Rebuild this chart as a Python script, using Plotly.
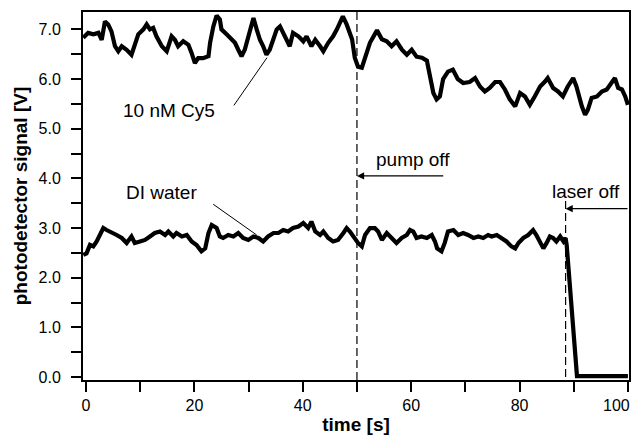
import plotly.graph_objects as go

# ---- data ----
cy5_time = [-0.5, 0.4, 1.35, 2.3, 2.9, 3.5, 4.1, 4.7, 5.35, 5.96, 6.6, 7.5, 8.4, 9.0, 9.65,
            10.6, 11.2, 11.8, 12.4, 13.0, 14.0, 14.9, 15.8, 16.4, 17.0, 17.95, 18.9, 19.5,
            20.1, 20.7, 21.6, 22.6, 22.9, 23.5, 24.1, 24.7, 25.0, 25.95, 26.9, 27.5, 28.1,
            28.7, 29.3, 29.9, 30.6, 30.9, 31.5, 32.1, 32.7, 33.3, 33.9, 34.6, 35.2, 35.8,
            36.7, 37.6, 38.2, 39.2, 40.1, 40.7, 41.6, 42.3, 43.2, 43.8, 44.7, 45.6, 46.3,
            46.9, 47.4, 48.1, 48.7, 49.1, 49.6, 50.2, 50.9, 51.5, 52.4, 53.7, 54.6, 55.5,
            56.4, 57.3, 58.3, 59.2, 60.1, 61.0, 62.0, 62.9, 63.5, 64.1, 64.7, 65.3, 65.9,
            66.8, 67.7, 68.6, 69.6, 70.8, 71.8, 72.7, 73.6, 74.5, 75.5, 76.4, 77.3, 78.2,
            79.2, 80.1, 81.0, 81.9, 82.8, 83.8, 84.7, 85.2, 86.2, 87.1, 88.0, 88.9, 89.9,
            90.5, 91.5, 92.1, 92.6, 93.3, 94.3, 95.2, 96.1, 97.0, 97.6, 98.2, 98.9, 99.5,
            100.0]
cy5_signal = [6.83, 6.93, 6.90, 6.93, 6.79, 7.16, 7.10, 6.96, 6.66, 6.56, 6.66, 6.59, 6.49,
              6.66, 6.90, 7.00, 7.10, 7.00, 7.03, 6.86, 6.66, 6.56, 6.86, 6.79, 6.66, 6.76,
              6.69, 6.52, 6.32, 6.42, 6.42, 6.46, 6.73, 7.06, 7.28, 7.20, 7.00, 6.90, 6.79,
              6.73, 6.59, 6.46, 6.59, 6.86, 7.13, 7.23, 7.00, 6.79, 6.66, 6.49, 6.59, 6.79,
              7.00, 7.06, 6.86, 6.66, 6.93, 6.86, 6.76, 6.86, 6.66, 6.79, 6.66, 6.56, 6.73,
              6.86, 7.00, 7.13, 7.26, 7.10, 6.90, 6.80, 6.43, 6.25, 6.23, 6.45, 6.73, 6.98,
              6.80, 6.76, 6.66, 6.76, 6.59, 6.49, 6.59, 6.45, 6.43, 6.37, 6.05, 5.72, 5.59,
              5.65, 6.00, 6.15, 6.19, 6.00, 5.92, 5.94, 6.02, 5.85, 5.75, 5.82, 5.94, 5.94,
              5.79, 5.59, 5.45, 5.72, 5.65, 5.48, 5.65, 5.85, 5.95, 6.02, 5.82, 5.75, 5.65,
              5.85, 6.02, 5.85, 5.45, 5.28, 5.38, 5.62, 5.65, 5.75, 5.79, 5.95, 6.02, 5.82,
              5.79, 5.65, 5.48]

water_time = [-0.5, 0.1, 0.74, 1.35, 1.97, 2.58, 3.2, 3.8, 4.7, 5.66, 6.6, 7.5, 8.4, 9.0,
              9.96, 10.9, 11.8, 12.7, 13.65, 14.6, 15.2, 16.1, 16.7, 17.7, 18.6, 19.5, 20.4,
              21.3, 22.0, 22.6, 23.2, 24.1, 24.7, 25.3, 26.25, 27.2, 28.1, 29.0, 29.95, 30.9,
              31.8, 32.7, 33.6, 34.6, 35.5, 36.4, 37.3, 38.2, 39.2, 40.1, 41.0, 41.6, 42.3,
              43.2, 43.8, 44.7, 45.6, 46.5, 47.5, 48.1, 48.7, 49.3, 50.2, 50.9, 51.5, 52.4,
              53.3, 53.9, 54.6, 55.5, 56.4, 57.3, 58.25, 59.2, 59.8, 60.4, 61.0, 61.9, 62.9,
              63.8, 64.4, 64.8, 65.6, 66.2, 66.8, 67.8, 68.7, 69.6, 70.5, 71.5, 72.4, 73.3,
              74.2, 74.85, 75.8, 76.7, 77.6, 78.5, 79.2, 79.8, 80.7, 81.6, 82.5, 83.1, 83.8,
              84.4, 85.0, 85.6, 86.2, 86.8, 87.5, 88.1, 88.5, 88.7, 90.6, 95.0, 100.0]
water_signal = [2.46, 2.49, 2.66, 2.63, 2.73, 2.86, 3.00, 2.96, 2.90, 2.86, 2.80, 2.70, 2.83,
                2.70, 2.73, 2.76, 2.83, 2.90, 2.93, 2.86, 2.93, 2.83, 2.90, 2.83, 2.86, 2.73,
                2.66, 2.53, 2.59, 2.90, 3.06, 3.00, 2.83, 2.80, 2.86, 2.83, 2.90, 2.80, 2.76,
                2.83, 2.80, 2.73, 2.83, 2.90, 2.90, 2.96, 2.93, 3.00, 3.03, 3.10, 3.00, 3.13,
                2.93, 2.86, 2.93, 2.80, 2.73, 2.76, 2.90, 3.00, 2.93, 2.83, 2.70, 2.63, 2.86,
                3.00, 3.00, 2.93, 2.76, 2.90, 2.80, 2.70, 2.80, 2.86, 2.96, 2.93, 2.80, 2.83,
                2.80, 2.86, 2.73, 2.59, 2.53, 2.70, 2.93, 2.96, 2.86, 2.90, 2.86, 2.80, 2.83,
                2.80, 2.86, 2.83, 2.86, 2.80, 2.73, 2.63, 2.59, 2.70, 2.80, 2.86, 2.96, 2.86,
                2.73, 2.59, 2.70, 2.83, 2.80, 2.73, 2.83, 2.73, 2.80, 2.66, 0.02, 0.02, 0.02]

x_tick_values = [0, 10, 20, 30, 40, 50, 60, 70, 80, 90, 100]
x_tick_labels = ["0", "", "20", "", "40", "", "60", "", "80", "", ""]
X_LAST_LABEL = "100"   # drawn right-aligned at its tick so it stays inside the page
y_tick_values = [0.0, 0.5, 1.0, 1.5, 2.0, 2.5, 3.0, 3.5, 4.0, 4.5, 5.0, 5.5, 6.0, 6.5, 7.0]
y_tick_labels = ["0.0", "", "1.0", "", "2.0", "", "3.0", "", "4.0", "", "5.0", "", "6.0", "", "7.0"]

PUMP_OFF_T = 50.0
LASER_OFF_T = 88.5

FONT = "Liberation Sans, Arial, Helvetica, sans-serif"

fig = go.Figure()
fig.add_trace(go.Scatter(x=cy5_time, y=cy5_signal, mode="lines",
                         line=dict(color="black", width=4.2), showlegend=False))
fig.add_trace(go.Scatter(x=water_time, y=water_signal, mode="lines",
                         line=dict(color="black", width=4.2), showlegend=False))

# dashed event markers
fig.add_shape(type="line", xref="x", yref="paper", x0=PUMP_OFF_T, x1=PUMP_OFF_T, y0=0, y1=1,
              line=dict(color="black", width=1.2, dash="8px,4px"))
fig.add_shape(type="line", xref="x", yref="y", x0=LASER_OFF_T, x1=LASER_OFF_T, y0=0, y1=3.63,
              line=dict(color="black", width=1.2, dash="8px,4px"))

ann_font = dict(family=FONT, size=19, color="black")
annotations = [
    dict(x=60.4, y=4.37, text="pump off", showarrow=False, font=ann_font),
    dict(x=PUMP_OFF_T, y=4.05, ax=66.2, ay=4.05, axref="x", ayref="y", text="",
         showarrow=True, arrowhead=2, arrowsize=1.3, arrowwidth=1.1, arrowcolor="black"),
    dict(x=92.3, y=3.73, text="laser off", showarrow=False, font=ann_font),
    dict(x=LASER_OFF_T, y=3.39, ax=100.2, ay=3.39, axref="x", ayref="y", text="",
         showarrow=True, arrowhead=2, arrowsize=1.3, arrowwidth=1.1, arrowcolor="black"),
    dict(x=15.4, y=5.36, text="10 nM Cy5", showarrow=False, font=ann_font),
    dict(x=33.4, y=6.43, ax=27.1, ay=5.44, axref="x", ayref="y", text="",
         showarrow=True, arrowhead=0, arrowwidth=1, arrowcolor="black"),
    dict(x=14.0, y=3.71, text="DI water", showarrow=False, font=ann_font),
    dict(x=31.5, y=2.86, ax=23.2, ay=3.5, axref="x", ayref="y", text="",
         showarrow=True, arrowhead=0, arrowwidth=1, arrowcolor="black"),
    dict(x=x_tick_values[-1], xref="x", y=0, yref="paper", text=X_LAST_LABEL,
         showarrow=False, xanchor="right", yanchor="middle", xshift=3, yshift=-25,
         borderpad=0, font=dict(family=FONT, size=16, color="black")),
]

# The page places the figure 8 px in from the top-left corner, so the figure is
# sized and its margins set so that the plot area lands where the reference has it.
fig.update_layout(
    width=633, height=427,
    margin=dict(l=75, r=12, t=4, b=55, autoexpand=False),
    paper_bgcolor="white", plot_bgcolor="white",
    font=dict(family=FONT, size=16, color="black"),
    annotations=annotations,
    xaxis=dict(range=[-0.55, 100.2], tickvals=x_tick_values, ticktext=x_tick_labels,
               ticks="outside", ticklen=10, tickwidth=2, tickcolor="black",
               showline=True, linewidth=2, linecolor="black", mirror=True,
               showgrid=False, zeroline=False, automargin=False,
               ticklabeloverflow="allow",
               title=dict(text="<b>time [s]</b>", font=dict(family=FONT, size=19), standoff=12),
               tickfont=dict(family=FONT, size=16)),
    yaxis=dict(range=[-0.06, 7.35], tickvals=y_tick_values, ticktext=y_tick_labels,
               ticks="outside", ticklen=10, tickwidth=2, tickcolor="black",
               showline=True, linewidth=2, linecolor="black", mirror=True,
               showgrid=False, zeroline=False, automargin=False,
               ticklabelstandoff=7,
               title=dict(text="<b>photodetector signal [V]</b>", font=dict(family=FONT, size=19),
                          standoff=6),
               tickfont=dict(family=FONT, size=16)),
)

fig.write_html("out.html")
